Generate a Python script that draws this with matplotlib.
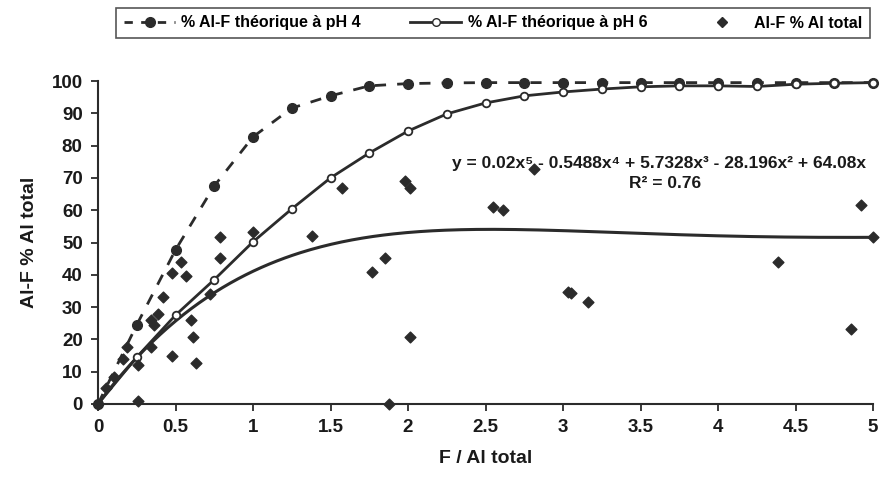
import numpy as np
import matplotlib
matplotlib.use("Agg")
import matplotlib.pyplot as plt
from matplotlib.lines import Line2D

plt.rcParams['font.family'] = ['Liberation Sans', 'DejaVu Sans']

# ---- data ----
x_theo = [0, 0.25, 0.5, 0.75, 1, 1.25, 1.5, 1.75, 2, 2.25, 2.5, 2.75,
          3, 3.25, 3.5, 3.75, 4, 4.25, 4.5, 4.75, 5]
ph4 = [0, 24.5, 47.7, 67.5, 82.7, 91.6, 95.4, 98.5, 99.2, 99.4, 99.5, 99.5,
       99.5, 99.5, 99.5, 99.5, 99.5, 99.5, 99.5, 99.5, 99.5]
ph6 = [0, 14.5, 27.5, 38.5, 50.2, 60.4, 70.0, 77.7, 84.5, 89.8, 93.2, 95.4,
       96.6, 97.5, 98.2, 98.5, 98.5, 98.3, 99.0, 99.3, 99.5]

obs_x = [0, 0.05, 0.10, 0.16, 0.19, 0.26, 0.26, 0.34, 0.34, 0.36, 0.39, 0.42,
         0.48, 0.48, 0.535, 0.57, 0.60, 0.61, 0.63, 0.72, 0.79, 0.79, 1.0,
         1.38, 1.575, 1.77, 1.85, 1.88, 1.98, 2.01, 2.01, 2.55, 2.61, 2.81,
         3.03, 3.05, 3.16, 4.39, 4.86, 4.92, 5.0]
obs_y = [0, 5, 8.5, 14, 17.5, 12, 1, 17.5, 26, 24.5, 28, 33,
         40.5, 15, 44, 39.5, 26, 20.7, 12.7, 34, 51.7, 45.2, 53.2,
         52, 67, 41, 45.2, 0, 69, 67, 20.7, 61, 60, 72.8,
         34.7, 34.4, 31.6, 44, 23.2, 61.6, 51.7]

# polynomial trend (coefficients as printed on the chart, highest degree first)
trend_coefs = [0.02, -0.5488, 5.7328, -28.196, 64.08, 0]
eq_text = "y = 0.02x⁵ - 0.5488x⁴ + 5.7328x³ - 28.196x² + 64.08x"
r2_text = "R² = 0.76"

x_ticks = [0, 0.5, 1, 1.5, 2, 2.5, 3, 3.5, 4, 4.5, 5]
x_ticklabels = ["0", "0.5", "1", "1.5", "2", "2.5", "3", "3.5", "4", "4.5", "5"]
y_ticks = list(range(0, 101, 10))

lab4 = "% Al-F théorique à pH 4"
lab6 = "% Al-F théorique à pH 6"
labobs = "Al-F % Al total"

dark = "#2b2b2b"

fig = plt.figure(figsize=(8.86, 4.84), dpi=100)
ax = fig.add_axes([98/886, 1-404/484, 775/886, 323/484])

ax.plot(x_theo, ph4, color=dark, lw=2.0, dashes=(4, 4), marker='o',
        ms=7, mfc=dark, mec=dark, clip_on=False, zorder=3)
ax.plot(x_theo, ph6, color=dark, lw=2.0, marker='o', ms=5.5,
        mfc='white', mec=dark, mew=1.3, clip_on=False, zorder=3)
xt = np.linspace(0, 5, 300)
ax.plot(xt, np.polyval(trend_coefs, xt), color=dark, lw=2.2, clip_on=False, zorder=2)
ax.scatter(obs_x, obs_y, marker='D', s=30, color=dark, clip_on=False, zorder=4)

ax.set_xlim(0, 5)
ax.set_ylim(0, 100)
ax.set_xticks(x_ticks)
ax.set_xticklabels(x_ticklabels)
ax.set_yticks(y_ticks)
for s in ['top', 'right']:
    ax.spines[s].set_visible(False)
for s in ['left', 'bottom']:
    ax.spines[s].set_color(dark)
    ax.spines[s].set_linewidth(1.5)
ax.tick_params(axis='both', direction='out', length=5, width=1.3, color=dark,
               labelsize=13.5, pad=6, labelcolor='#1a1a1a')
for lbl in ax.get_xticklabels() + ax.get_yticklabels():
    lbl.set_fontweight('bold')

ax.set_xlabel("F / Al total", fontsize=14, fontweight='bold', color='#1a1a1a', labelpad=10)
ax.set_ylabel("Al-F % Al total", fontsize=14, fontweight='bold', color='#1a1a1a', labelpad=10)

ax.text(3.62, 74.6, eq_text, fontsize=12.5, fontweight='bold', color='#1a1a1a',
        ha='center', va='center', family=['Liberation Sans', 'DejaVu Sans'], clip_on=False)
ax.text(3.66, 68.4, r2_text, fontsize=12.5, fontweight='bold', color='#1a1a1a',
        ha='center', va='center', family=['Liberation Sans', 'DejaVu Sans'])

handles = [
    Line2D([], [], color=dark, lw=2, dashes=(3, 3), marker='o', ms=7, mfc=dark, mec=dark),
    Line2D([], [], color=dark, lw=2, marker='o', ms=5.5, mfc='white', mec=dark),
    Line2D([], [], color=dark, lw=0, marker='D', ms=5, mfc=dark, mec=dark),
]
leg = fig.legend(handles, [lab4, lab6, labobs], loc='center',
                 bbox_to_anchor=(108/886, 1-38/484, 770/886, 30/484),
                 mode='expand', ncol=3, frameon=True, fancybox=False,
                 edgecolor=dark, handlelength=3.2, handletextpad=0.4,
                 borderpad=0.5, prop={'size': 11.5, 'weight': 'bold'})
leg.get_frame().set_linewidth(1.2)

fig.savefig("out.png", dpi=100, facecolor='white')
